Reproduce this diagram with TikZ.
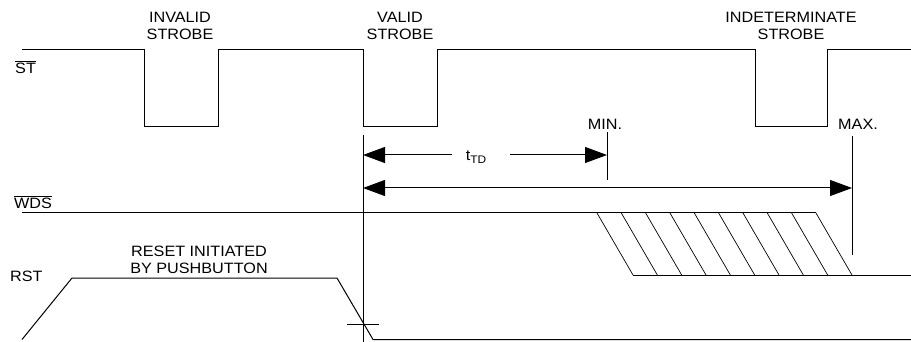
\documentclass[tikz,border=0pt]{standalone}
\usepackage{fontspec}
\setmainfont{Liberation Sans}[FakeStretch=1.08]
\usetikzlibrary{arrows.meta}

\begin{document}
\begin{tikzpicture}[
  x=1pt, y=-1pt,
  font=\fontsize{15}{17}\selectfont,
  sig/.style={line width=1pt},
  hatchline/.style={line width=0.7pt},
  lab/.style={align=center, inner sep=0pt},
  signame/.style={anchor=west, inner sep=0pt},
  dim/.style={line width=1pt, -{Triangle[length=22pt,width=16pt]}},
  dimboth/.style={line width=1pt, {Triangle[length=22pt,width=16pt]}-{Triangle[length=22pt,width=16pt]}}
]
\useasboundingbox (0,0) rectangle (911,342);
% Signal names
\node[signame] (st) at (15,67) {$\overline{\mbox{ST}}$};
\node[signame] (wds) at (14,202) {$\overline{\mbox{WDS}}$};
\node[signame] (rst) at (10,276) {RST};
% Strobe labels
\node[lab] (inv) at (180,26) {INVALID\\STROBE};
\node[lab] (val) at (400,26) {VALID\\STROBE};
\node[lab] (ind) at (791,26) {INDETERMINATE\\STROBE};
\node[lab] (rsl) at (199,260) {RESET INITIATED\\BY PUSHBUTTON};
% ST waveform
\draw[sig] (22,50) -- (144,50) -- (144,127) -- (218,127) -- (218,50)
  -- (363,50) -- (363,127) -- (437,127) -- (437,50)
  -- (755,50) -- (755,127) -- (827,127) -- (827,50) -- (911,50);
% Timing markers
\coordinate (vs) at (363,135);
\coordinate (ve) at (363,342);
\coordinate (mint) at (607,132);
\coordinate (minb) at (607,180);
\coordinate (maxt) at (852,136);
\coordinate (maxb) at (852,255);
\draw[sig] (vs) -- (ve);
\draw[sig] (mint) -- (minb);
\draw[sig] (maxt) -- (maxb);
\node[lab, anchor=south] (minl) at (605,130) {MIN.};
\node[lab, anchor=south] (maxl) at (858,130) {MAX.};
% tTD dimension
\node[lab] (ttd) at (476,157) {t\raisebox{-3pt}{\fontsize{11}{11}\selectfont TD}};
\coordinate (a1) at (363,155);
\coordinate (a1m) at (452,155);
\coordinate (a2m) at (510,155);
\coordinate (a2) at (607,155);
\draw[dim] (a1m) -- (a1);
\draw[dim] (a2m) -- (a2);
\coordinate (b1) at (363,188);
\coordinate (b2) at (852,188);
\draw[dimboth] (b1) -- (b2);
% WDS waveform with indeterminate region
\draw[sig] (22,213) -- (816,213);
\foreach \k in {0,...,9}
  \draw[hatchline] ({597+24.33*\k},213) -- ({633+24.33*\k},275);
\draw[sig] (633,275) -- (911,275);
% RST waveform
\draw[sig] (22,339.5) -- (72,278) -- (337,278) -- (373,339.5) -- (911,339.5);
\draw[sig] (347,324) -- (379,324);
\end{tikzpicture}
\end{document}
